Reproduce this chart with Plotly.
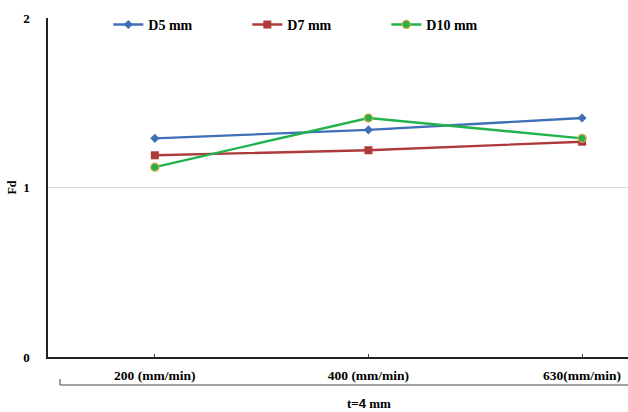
import plotly.graph_objects as go

categories = ["200 (mm/min)", "400 (mm/min)", "630(mm/min)"]
point_index = [0, 1, 2]
d5 = [1.29, 1.34, 1.41]
d7 = [1.19, 1.22, 1.27]
d10 = [1.12, 1.41, 1.29]

font_family = "Liberation Serif"

fig = go.Figure()
fig.add_trace(go.Scatter(x=point_index, y=d5, name="D5 mm", mode="lines+markers",
                         line=dict(color="#3F6FB6", width=2.4),
                         marker=dict(symbol="diamond", size=7, color="#3F6FB6")))
fig.add_trace(go.Scatter(x=point_index, y=d7, name="D7 mm", mode="lines+markers",
                         line=dict(color="#AE3A3A", width=2.4),
                         marker=dict(symbol="square", size=8, color="#AE3A3A")))
fig.add_trace(go.Scatter(x=point_index, y=d10, name="D10 mm", mode="lines+markers",
                         line=dict(color="#22B24C", width=2.4),
                         marker=dict(symbol="circle", size=8, color="#22B24C",
                                     line=dict(color="#D9A441", width=1.2))))

fig.update_layout(
    width=628, height=412,
    margin=dict(l=48, r=0, t=18, b=55, autoexpand=False),
    paper_bgcolor="white", plot_bgcolor="white",
    font=dict(family=font_family, size=13, color="black"),
    showlegend=True,
    legend=dict(orientation="h", x=0.104, y=1.027, xanchor="left", yanchor="top",
                bgcolor="rgba(0,0,0,0)", entrywidth=94, entrywidthmode="pixels",
                font=dict(family=font_family, size=14, color="black", weight="bold"),
                itemwidth=30),
    xaxis=dict(range=[-0.5, 2.215], tickvals=point_index, ticktext=[f"<b>{c}</b>" for c in categories],
               showgrid=False, zeroline=False, showline=True, linecolor="#222", linewidth=1.5,
               ticks="inside", ticklen=3, tickcolor="#444", ticklabelstandoff=5,
               tickfont=dict(size=13.5), fixedrange=True, automargin=False),
    yaxis=dict(range=[0, 2], tickvals=[0, 1, 2], ticktext=["<b>0</b>", "<b>1</b>", "<b>2</b>"],
               showgrid=True, gridcolor="#DADADA", gridwidth=1, zeroline=False,
               showline=True, linecolor="#222", linewidth=1.5, ticks="",
               ticklabelstandoff=14, tickfont=dict(size=13), automargin=False,
               title=dict(text="<b>Fd</b>", font=dict(size=12), standoff=4)),
)

# bracket under the category labels
fig.add_shape(type="line", xref="paper", yref="paper", x0=0.0207, x1=1.0, y0=-0.0826, y1=-0.0826,
              line=dict(color="#444", width=1))
fig.add_shape(type="line", xref="paper", yref="paper", x0=0.0207, x1=0.0207, y0=-0.0826, y1=-0.0649,
              line=dict(color="#444", width=1))
fig.add_annotation(xref="paper", yref="paper", x=0.553, y=-0.11, yanchor="top", showarrow=False,
                   text="<b>t=<span style='font-family:Liberation Sans'>4</span> mm</b>",
                   font=dict(size=13))

fig.write_html("out.html", config={"displayModeBar": False},
               post_script="document.body.style.margin='0';document.body.style.overflow='hidden';")
